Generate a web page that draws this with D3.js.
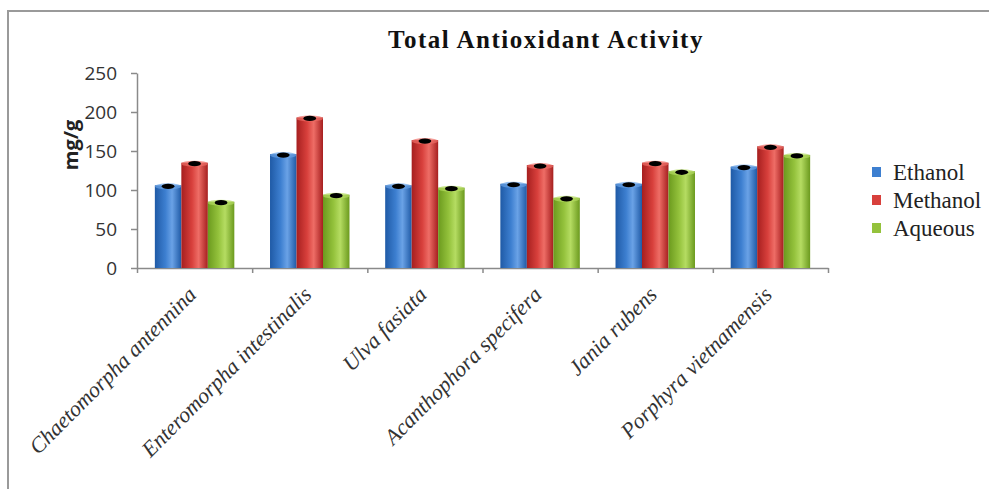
<!DOCTYPE html>
<html><head><meta charset="utf-8">
<script src="https://cdn.jsdelivr.net/npm/d3@7"></script>
<style>body{margin:0;background:#fff}svg{display:block}</style>
</head><body>
<svg id="c" width="989" height="490"></svg>
<script>
const categories = ["Chaetomorpha antennina","Enteromorpha intestinalis","Ulva fasiata","Acanthophora specifera","Jania rubens","Porphyra vietnamensis"];
const seriesNames = ["Ethanol","Methanol","Aqueous"];
const ethanol  = [106,146,106,108,108,130];
const methanol = [135,193,164,132,135,156];
const aqueous  = [85,94,103,90,124,145];
const yTicks = [0,50,100,150,200,250];
const title = "Total Antioxidant Activity";
const yLabel = "mg/g";

const seriesValues = [ethanol, methanol, aqueous];
const colors = [
  {dark:"#1f5aa6", mid:"#3d7fd0", light:"#6aa2e6"},
  {dark:"#a61f1f", mid:"#d8403c", light:"#ee6d66"},
  {dark:"#6b9a1e", mid:"#94c23c", light:"#b5dc62"}
];
const serif = "'Liberation Serif','Times New Roman','DejaVu Serif',serif";

const svg = d3.select("#c");
const defs = svg.append("defs");
colors.forEach((c,i)=>{
  const g = defs.append("linearGradient").attr("id","g"+i).attr("x1","0").attr("x2","1").attr("y1","0").attr("y2","0");
  g.append("stop").attr("offset","0%").attr("stop-color",c.dark);
  g.append("stop").attr("offset","40%").attr("stop-color",c.mid);
  g.append("stop").attr("offset","65%").attr("stop-color",c.light);
  g.append("stop").attr("offset","100%").attr("stop-color",c.dark);
});

// frame
svg.append("path").attr("d","M8,489V11H989").attr("fill","none").attr("stroke","#9a9a9a").attr("stroke-width",2);

const x0 = d3.scaleBand().domain(categories).range([137,828]).paddingInner(0.31).paddingOuter(0.155);
const x1 = d3.scaleBand().domain(seriesNames).range([0,x0.bandwidth()]);
const y = d3.scaleLinear().domain([0,250]).range([268,73]);

// y axis
const yAxis = svg.append("g").attr("transform","translate(137,0)")
  .call(d3.axisLeft(y).tickValues(yTicks).tickSize(6).tickSizeOuter(0));
yAxis.select(".domain").attr("stroke","#8a8a8a").attr("stroke-width",1.5);
yAxis.selectAll(".tick line").attr("stroke","#8a8a8a").attr("stroke-width",1.5);
yAxis.selectAll(".tick text").attr("font-family","'Open Sans','Liberation Sans',sans-serif").attr("font-size",19).attr("fill","#333").attr("x",-20);

// x axis
const xr = d3.scaleLinear().domain([0,categories.length]).range([137,828]);
const xAxis = svg.append("g").attr("transform","translate(0,268)")
  .call(d3.axisBottom(xr).tickValues(d3.range(0,categories.length+1)).tickSize(5).tickSizeOuter(0).tickFormat(""));
xAxis.select(".domain").attr("stroke","#8a8a8a").attr("stroke-width",1.5);
xAxis.selectAll(".tick line").attr("stroke","#8a8a8a").attr("stroke-width",1.5);

// bars
const groups = svg.append("g").selectAll("g").data(categories).join("g")
  .attr("transform",d=>`translate(${x0(d)},0)`);
groups.each(function(cat,ci){
  const g = d3.select(this);
  seriesNames.forEach((s,si)=>{
    const v = seriesValues[si][ci];
    const bx = x1(s), bw = x1.bandwidth();
    g.append("rect").attr("x",bx).attr("y",y(v)).attr("width",bw).attr("height",y(0)-y(v))
      .attr("fill",`url(#g${si})`);
    g.append("ellipse").attr("cx",bx+bw/2).attr("cy",y(v)+1).attr("rx",bw/2).attr("ry",3)
      .attr("fill",colors[si].light).attr("opacity",0.7);
    g.append("ellipse").attr("cx",bx+bw/2).attr("cy",y(v)+1).attr("rx",bw*0.24).attr("ry",2.6)
      .attr("fill","#000");
  });
});

// x labels
svg.append("g").selectAll("text").data(categories).join("text")
  .attr("transform",d=>`translate(${x0(d)+x0.bandwidth()/2+3},296) rotate(-45)`)
  .attr("text-anchor","end")
  .attr("font-family",serif)
  .attr("font-style","italic").attr("font-size",22).attr("fill","#333")
  .text(d=>d);

// title
svg.append("text").attr("x",546).attr("y",48).attr("text-anchor","middle")
  .attr("font-family",serif).attr("font-weight","bold").attr("font-size",25)
  .attr("letter-spacing",1.5).attr("fill","#111")
  .text(title);

// y label
svg.append("text").attr("transform","translate(78,145) rotate(-90)").attr("text-anchor","middle")
  .attr("font-family","'Open Sans','Liberation Sans',sans-serif").attr("font-weight","bold").attr("font-size",20).attr("fill","#222")
  .text(yLabel);

// legend
const leg = svg.append("g").selectAll("g").data(seriesNames).join("g")
  .attr("transform",(d,i)=>`translate(872,${172+i*28})`);
leg.append("rect").attr("x",0).attr("y",-5).attr("width",9).attr("height",10).attr("fill",(d,i)=>colors[i].mid);
leg.append("text").attr("x",21).attr("y",8).attr("font-family",serif).attr("font-size",23).attr("fill","#222").text(d=>d);
</script>
</body></html>
